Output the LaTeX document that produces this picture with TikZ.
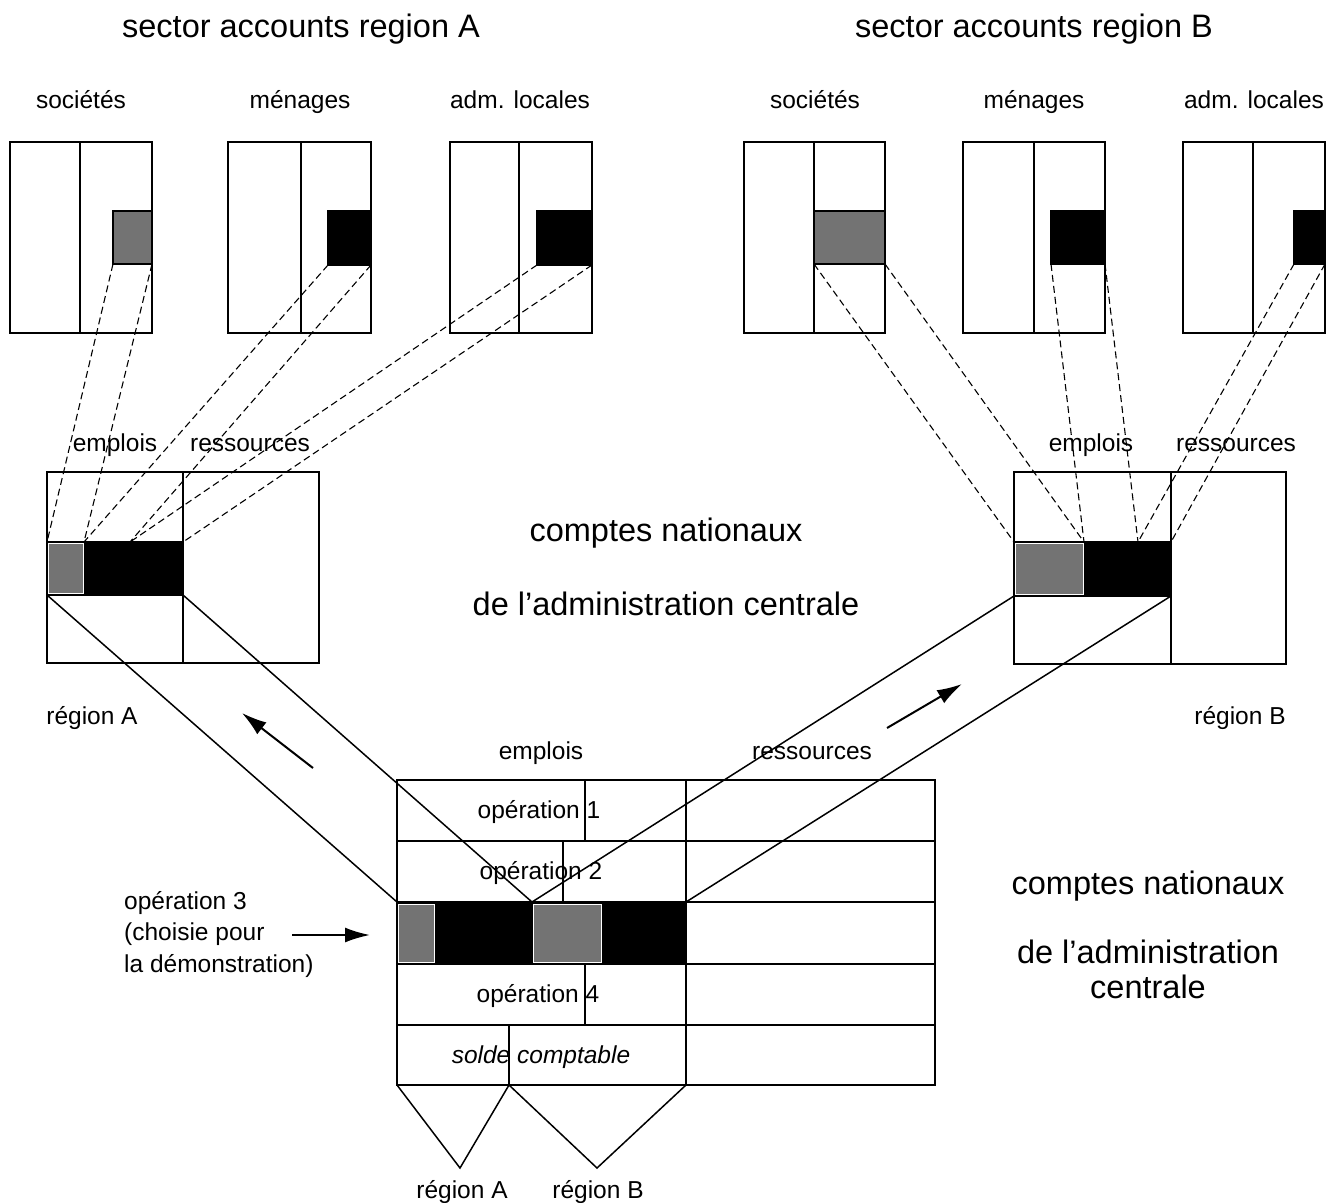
\documentclass[tikz,border=0pt]{standalone}
\usepackage{fontspec}
\setmainfont{Liberation Sans}
\usetikzlibrary{arrows.meta}
\begin{document}
\begin{tikzpicture}[x=1pt,y=-1pt,
  box/.style={line width=1.6pt},
  dashline/.style={line width=1.1pt, dash pattern=on 7pt off 4pt},
  link/.style={line width=1.5pt},
  shade/.style={fill=black!55},
  dark/.style={fill=black},
  lbl/.style={font=\fontsize{24.5}{29}\selectfont, inner sep=0pt, anchor=base},
  big/.style={font=\fontsize{32.5}{38}\selectfont, inner sep=0pt, anchor=base},
  arr/.style={line width=2pt, -{Latex[length=25pt,width=15pt]}}
]
\useasboundingbox[fill=white] (0,0) rectangle (1333,1202);

% ---------- titles ----------
\node[big] (tA) at (301,37) {sector accounts region A};
\node[big] (tB) at (1034,37) {sector accounts region B};
\node[lbl] (lsa) at (81,108) {sociétés};
\node[lbl] (lha) at (300,108) {ménages};
\node[lbl] (lla) at (520,108) {adm. locales};
\node[lbl] (lsb) at (815,108) {sociétés};
\node[lbl] (lhb) at (1034,108) {ménages};
\node[lbl] (llb) at (1254,108) {adm. locales};

% ---------- sector accounts region A ----------
\filldraw[shade, box] (113,211) rectangle (152,264);
\filldraw[dark, box] (328,211) rectangle (371,265);
\filldraw[dark, box] (537,211) rectangle (592,265);
\draw[box] (10,142) rectangle (152,333) (80,142) -- (80,333);
\draw[box] (228,142) rectangle (371,333) (301,142) -- (301,333);
\draw[box] (450,142) rectangle (592,333) (519,142) -- (519,333);
\coordinate (sa1) at (113,264); \coordinate (sa2) at (152,264);
\coordinate (ha1) at (328,265); \coordinate (ha2) at (371,265);
\coordinate (la1) at (537,265); \coordinate (la2) at (592,265);

% ---------- sector accounts region B ----------
\filldraw[shade, box] (814,211) rectangle (885,264);
\filldraw[dark, box] (1051,211) rectangle (1105,264);
\filldraw[dark, box] (1294,211) rectangle (1325,264);
\draw[box] (744,142) rectangle (885,333) (814,142) -- (814,333);
\draw[box] (963,142) rectangle (1105,333) (1034,142) -- (1034,333);
\draw[box] (1183,142) rectangle (1325,333) (1253,142) -- (1253,333);
\coordinate (sb1) at (814,264); \coordinate (sb2) at (885,264);
\coordinate (hb1) at (1051,264); \coordinate (hb2) at (1105,264);
\coordinate (lb1) at (1294,264); \coordinate (lb2) at (1325,264);

% ---------- middle account region A ----------
\node[lbl] (ea) at (115,451) {emplois};
\node[lbl] (ra) at (250,451) {ressources};
\fill[dark] (47,542) rectangle (183,595);
\filldraw[shade, draw=white, line width=1pt] (48.5,543.5) rectangle (83,593.5);
\draw[box] (47,472) rectangle (319,663) (183,472) -- (183,663) (47,542) -- (183,542) (47,595) -- (183,595);
\coordinate (ma0) at (47,542); \coordinate (ma1) at (84,542);
\coordinate (ma2) at (130,542); \coordinate (ma3) at (183,542);
\coordinate (ma0b) at (47,595); \coordinate (ma3b) at (183,595);
\node[lbl] (rgA) at (92,724) {région A};

% ---------- middle account region B ----------
\node[lbl] (eb) at (1091,451) {emplois};
\node[lbl] (rb) at (1236,451) {ressources};
\fill[dark] (1014,542) rectangle (1171,596);
\filldraw[shade, draw=white, line width=1pt] (1015.5,543.5) rectangle (1083,594.5);
\draw[box] (1014,472) rectangle (1286,664) (1171,472) -- (1171,664) (1014,542) -- (1171,542) (1014,596) -- (1171,596);
\coordinate (mb0) at (1014,542); \coordinate (mb1) at (1084,542);
\coordinate (mb2) at (1138,542); \coordinate (mb3) at (1171,542);
\coordinate (mb0b) at (1014,596); \coordinate (mb3b) at (1171,596);
\node[lbl] (rgB) at (1240,724) {région B};

% ---------- centre texts ----------
\node[big] (cn1) at (666,541) {comptes nationaux};
\node[big] (cn2) at (666,615) {de l’administration centrale};

% ---------- dashed projections ----------
\draw[dashline] (sa1) -- (ma0) (sa2) -- (ma1) (ha1) -- (ma1) (ha2) -- (ma2) (la1) -- (ma2) (la2) -- (ma3);
\draw[dashline] (sb1) -- (mb0) (sb2) -- (mb1) (hb1) -- (mb1) (hb2) -- (mb2) (lb1) -- (mb2) (lb2) -- (mb3);

% ---------- bottom table ----------
\node[lbl] (te) at (541,759) {emplois};
\node[lbl] (tr) at (812,759) {ressources};
\fill[dark] (397,902) rectangle (686,964);
\filldraw[shade, draw=white, line width=1pt] (398.5,904) rectangle (434,962);
\filldraw[shade, draw=white, line width=1pt] (533,904) rectangle (601,962);
\draw[box] (397,780) rectangle (935,1085)
  (686,780) -- (686,1085)
  (397,841) -- (935,841) (397,902) -- (935,902) (397,964) -- (935,964) (397,1025) -- (935,1025)
  (585,780) -- (585,841) (563,841) -- (563,902) (585,964) -- (585,1025) (509,1025) -- (509,1085);
\node[lbl] (op1) at (539,818) {opération 1};
\node[lbl] (op2) at (541,879) {opération 2};
\node[lbl] (op4) at (538,1002) {opération 4};
\node[lbl, font=\fontsize{24.5}{29}\selectfont\itshape] (sol) at (541,1063) {solde comptable};
\coordinate (t0) at (397,902); \coordinate (t2) at (532,902); \coordinate (t4) at (686,902);

% ---------- solid links ----------
\draw[link] (ma0b) -- (t0) (ma3b) -- (t2) (mb0b) -- (t2) (mb3b) -- (t4);

% ---------- arrows ----------
\coordinate (aA1) at (313,768); \coordinate (aA2) at (242,713);
\coordinate (aB1) at (887,728); \coordinate (aB2) at (962,684);
\draw[arr] (aA1) -- (aA2);
\draw[arr] (aB1) -- (aB2);

% ---------- operation 3 note ----------
\node[lbl, anchor=north west, align=left, font=\fontsize{24.5}{31.5}\selectfont] (note) at (124,891) {opération 3\\(choisie pour\\la démonstration)};
\coordinate (n1) at (292,935); \coordinate (n2) at (370,935);
\draw[arr] (n1) -- (n2);

% ---------- right texts ----------
\node[big] (cr1) at (1148,894) {comptes nationaux};
\node[big] (cr2) at (1148,963) {de l’administration};
\node[big] (cr3) at (1148,998) {centrale};

% ---------- regional split ----------
\coordinate (s0) at (397,1085); \coordinate (s1) at (509,1085); \coordinate (s2) at (686,1085);
\coordinate (vA) at (460,1168); \coordinate (vB) at (597,1168);
\draw[link] (s0) -- (vA) -- (s1) -- (vB) -- (s2);
\node[lbl] (brA) at (462,1198) {région A};
\node[lbl] (brB) at (598,1198) {région B};
\end{tikzpicture}
\end{document}
